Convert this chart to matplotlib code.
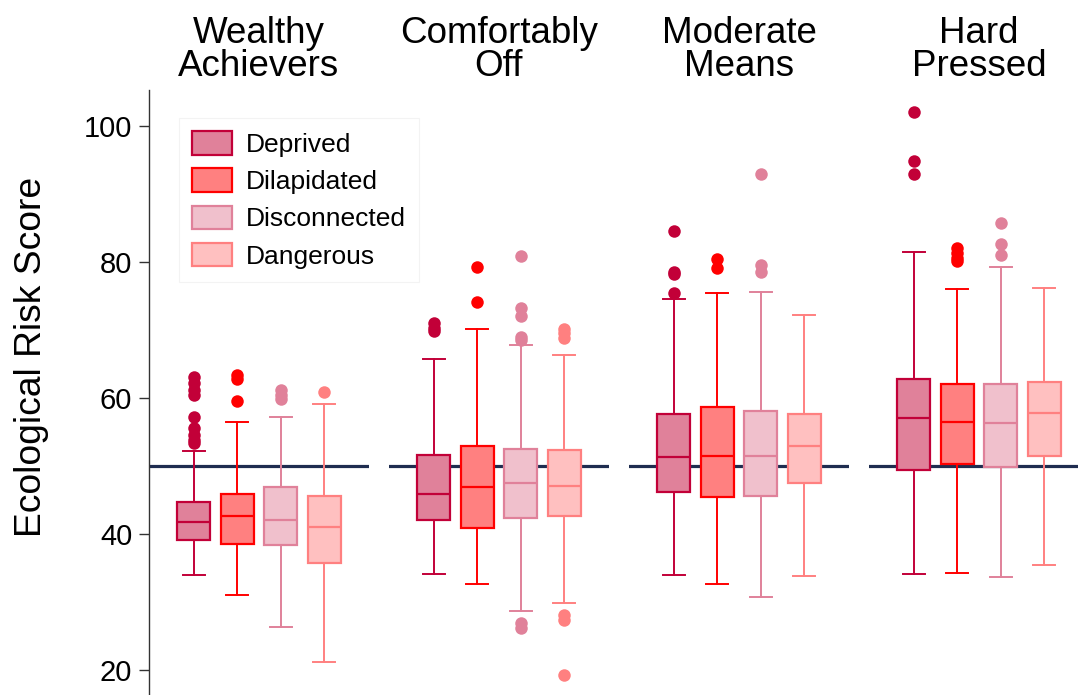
import matplotlib
matplotlib.use("Agg")
import matplotlib.pyplot as plt
from matplotlib.patches import Patch

plt.rcParams['font.family'] = ['Liberation Sans', 'DejaVu Sans']

groups = ["Wealthy\nAchievers", "Comfortably\nOff", "Moderate\nMeans", "Hard\nPressed"]
types = ["Deprived", "Dilapidated", "Disconnected", "Dangerous"]

# box stats per group, in the order of types: q1, median, q3, lower whisker, upper whisker
q1 = [[39.1, 38.5, 38.3, 35.7],
      [42.0, 40.9, 42.3, 42.7],
      [46.1, 45.4, 45.6, 47.5],
      [49.4, 50.3, 49.9, 51.5]]
med = [[41.8, 42.7, 42.0, 41.0],
       [45.9, 46.9, 47.5, 47.1],
       [51.3, 51.4, 51.5, 52.9],
       [57.1, 56.5, 56.3, 57.8]]
q3 = [[44.7, 45.8, 46.9, 45.6],
      [51.6, 52.9, 52.5, 52.3],
      [57.6, 58.6, 58.1, 57.7],
      [62.8, 62.0, 62.0, 62.3]]
whislo = [[34.0, 31.0, 26.3, 21.2],
          [34.1, 32.7, 28.7, 29.9],
          [34.0, 32.6, 30.7, 33.8],
          [34.1, 34.3, 33.6, 35.4]]
whishi = [[52.2, 56.5, 57.2, 59.1],
          [65.7, 70.1, 67.8, 66.3],
          [74.6, 75.4, 75.6, 72.2],
          [81.5, 76.0, 79.2, 76.1]]
fliers = [
    [[63.1, 62.2, 61.2, 60.4, 57.2, 55.6, 54.6, 53.8, 53.3], [63.4, 62.8, 59.5], [61.2, 60.5, 59.8], [60.9]],
    [[71.0, 70.3, 69.8], [79.2, 74.1], [80.9, 73.3, 72.0, 68.9, 68.5, 26.9, 26.2], [70.2, 69.6, 68.8, 28.1, 27.4, 19.2]],
    [[84.6, 78.6, 78.3, 75.4], [80.5, 79.1], [92.9, 79.6, 78.6], []],
    [[102.0, 94.9, 93.0], [82.0, 81.3, 80.6, 80.2], [85.8, 82.6, 81.0], []],
]

fills = ["#E0819A", "#FF8080", "#F0C0CC", "#FFC0C0"]
edges = ["#C20038", "#FF0000", "#E0819A", "#FF8080"]
ref_value = 50

W, H = 1078, 695
fig = plt.figure(figsize=(W / 100, H / 100), dpi=100)

axes = []
for g in range(4):
    left = (149 + g * 240) / W
    ax = fig.add_axes([left, 0, 220 / W, 605 / H], facecolor='none')
    axes.append(ax)
    ax.set_xlim(-1.03, 4.03)
    ax.set_ylim(16.3, 105.3)
    ax.axhline(ref_value, color="#1F2D50", lw=2.3, zorder=1)
    for t in range(4):
        st = dict(q1=q1[g][t], med=med[g][t], q3=q3[g][t],
                  whislo=whislo[g][t], whishi=whishi[g][t], fliers=fliers[g][t])
        ax.bxp([st], positions=[t], widths=0.75, capwidths=0.5,
               patch_artist=True, manage_ticks=False, zorder=3,
               boxprops=dict(facecolor=fills[t], edgecolor=edges[t], lw=1.6),
               medianprops=dict(color=edges[t], lw=1.6),
               whiskerprops=dict(color=edges[t], lw=1.4),
               capprops=dict(color=edges[t], lw=1.4),
               flierprops=dict(marker='o', markerfacecolor=edges[t],
                               markeredgecolor='none', markersize=9))
    ax.set_title(groups[g], fontsize=26.5, linespacing=0.92, pad=10)
    for s in ['top', 'right', 'bottom']:
        ax.spines[s].set_visible(False)
    ax.set_xticks([])
    if g == 0:
        ax.spines['left'].set_color('#333333')
        ax.spines['left'].set_linewidth(1.0)
        ax.set_yticks([20, 40, 60, 80, 100])
        ax.tick_params(axis='y', labelsize=21, length=7, width=1, color='#333333', pad=5)
        ax.set_ylabel("Ecological Risk Score", fontsize=26.8)
        ax.yaxis.set_label_coords(-0.09 - 80 / 220, 0.559)
    else:
        ax.spines['left'].set_visible(False)
        ax.set_yticks([])

handles = [Patch(facecolor=fills[t], edgecolor=edges[t], lw=1.6, label=types[t]) for t in range(4)]
leg = fig.legend(handles=handles, loc='upper left', bbox_to_anchor=(179 / W, 1 - 118 / H),
                 fontsize=19, frameon=True, fancybox=False, handlelength=1.5, handleheight=1.0,
                 labelspacing=0.43, borderpad=0.5, handletextpad=0.55, borderaxespad=0)
leg.get_frame().set_edgecolor('#F0F0F0')
leg.get_frame().set_linewidth(0.8)

fig.savefig("out.png", dpi=100)
